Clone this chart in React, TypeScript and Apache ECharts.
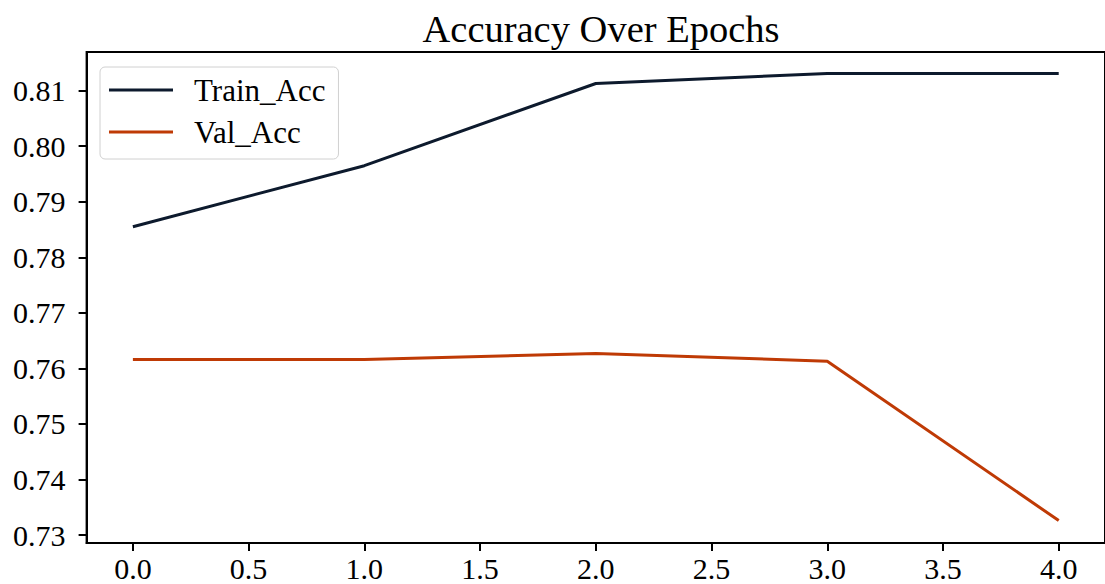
import React, { useEffect, useRef } from "react";
import * as echarts from "echarts";

const epochs = [0, 1, 2, 3, 4];
const trainAcc = [0.7855, 0.7965, 0.8113, 0.8131, 0.8131];
const valAcc = [0.7616, 0.7616, 0.7627, 0.7613, 0.7326];
const xTicks = [0, 0.5, 1, 1.5, 2, 2.5, 3, 3.5, 4];
const yTicks = [0.73, 0.74, 0.75, 0.76, 0.77, 0.78, 0.79, 0.8, 0.81];
const seriesNames = ["Train_Acc", "Val_Acc"];
const titleText = "Accuracy Over Epochs";

const FONT = "Liberation Serif";
const X_MIN = -0.2;
const X_MAX = 4.2;
const Y_MIN = 0.72856;
const Y_MAX = 0.81697;

export default function App() {
  const ref = useRef<HTMLDivElement>(null);
  useEffect(() => {
    if (!ref.current) return;
    const chart = echarts.init(ref.current, null, { renderer: "svg" });
    chart.setOption({
      animation: false,
      backgroundColor: "#ffffff",
      textStyle: { fontFamily: FONT },
      title: {
        text: titleText,
        left: 601,
        top: 9,
        padding: 0,
        textAlign: "center",
        textStyle: { fontFamily: FONT, fontSize: 38.5, fontWeight: "normal", color: "#000" },
      },
      legend: {
        left: 100,
        top: 67,
        orient: "vertical",
        data: seriesNames,
        icon: "rect",
        itemWidth: 64,
        itemHeight: 3,
        itemGap: 6,
        padding: [5, 13, 9, 9],
        borderColor: "#d0d0d0",
        borderWidth: 1,
        borderRadius: 5,
        backgroundColor: "rgba(255,255,255,0.8)",
        textStyle: { fontFamily: FONT, fontSize: 31, color: "#000", lineHeight: 36, padding: [0, 0, 0, 16] },
      },
      grid: {
        left: 86.6,
        right: -10,
        top: 52,
        bottom: 41,
        show: true,
        borderColor: "#000",
        borderWidth: 2,
        containLabel: false,
      },
      xAxis: {
        type: "value",
        min: X_MIN,
        max: X_MAX,
        axisLine: { show: true, onZero: false, lineStyle: { color: "#000", width: 2 } },
        axisTick: { show: true, length: 8, lineStyle: { color: "#000", width: 2 }, customValues: xTicks },
        axisLabel: { show: false },
        splitLine: { show: false },
      },
      yAxis: {
        type: "value",
        min: Y_MIN,
        max: Y_MAX,
        axisLine: { show: true, onZero: false, lineStyle: { color: "#000", width: 2 } },
        axisTick: { show: true, length: 8, lineStyle: { color: "#000", width: 2 }, customValues: yTicks },
        axisLabel: { show: false },
        splitLine: { show: false },
      },
      series: [
        {
          name: seriesNames[0],
          type: "line",
          data: epochs.map((e, i) => [e, trainAcc[i]]),
          symbol: "none",
          lineStyle: { color: "#0d1a2d", width: 3 },
          itemStyle: { color: "#0d1a2d" },
        },
        {
          name: seriesNames[1],
          type: "line",
          data: epochs.map((e, i) => [e, valAcc[i]]),
          symbol: "none",
          lineStyle: { color: "#bf3a05", width: 3 },
          itemStyle: { color: "#bf3a05" },
        },
      ],
    });

    // Tick labels placed through the chart's own scales
    const labels: any[] = [];
    xTicks.forEach((v) => {
      const p = chart.convertToPixel({ gridIndex: 0 }, [v, Y_MIN]) as number[];
      labels.push({
        type: "text",
        x: p[0],
        y: p[1] + 10.5,
        silent: true,
        style: {
          text: v.toFixed(1),
          fontFamily: FONT,
          fontSize: 30,
          fill: "#000",
          align: "center",
          verticalAlign: "top",
        },
      });
    });
    yTicks.forEach((v) => {
      const p = chart.convertToPixel({ gridIndex: 0 }, [X_MIN, v]) as number[];
      labels.push({
        type: "text",
        x: p[0] - 21,
        y: p[1],
        silent: true,
        style: {
          text: v.toFixed(2),
          fontFamily: FONT,
          fontSize: 30,
          fill: "#000",
          align: "right",
          verticalAlign: "middle",
        },
      });
    });
    chart.setOption({ graphic: labels });

    return () => chart.dispose();
  }, []);
  return (
    <div
      ref={ref}
      style={{ position: "absolute", left: 0, top: 0, width: 1105, height: 584, overflow: "hidden" }}
    />
  );
}
